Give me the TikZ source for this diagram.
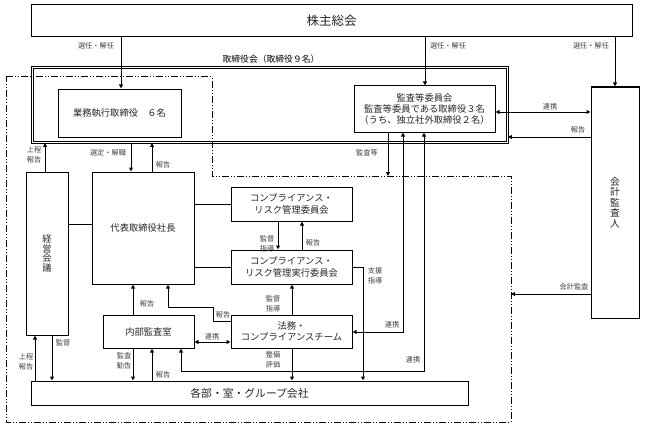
\documentclass[tikz,border=0pt]{standalone}
\usepackage{fontspec}
\setmainfont{Noto Sans CJK JP}
\usetikzlibrary{arrows.meta}
\begin{document}
\begin{tikzpicture}[x=1pt,y=-1pt,
  box/.style={draw, line width=1pt, inner sep=0pt, align=center, text=black!85, font=\fontsize{9.3}{11.5}\selectfont},
  arr/.style={-{Triangle[length=4pt,width=3.8pt]}, line width=1pt},
  darr/.style={{Triangle[length=4pt,width=3.8pt]}-{Triangle[length=4pt,width=3.8pt]}, line width=1pt},
  ln/.style={line width=1pt},
  lbl/.style={font=\fontsize{7.2}{9.5}\selectfont, text=black!75, inner sep=0pt, align=center},
  ddot/.style={line width=1pt, dash pattern=on 7pt off 2pt on 1pt off 2pt on 1pt off 2pt},
]
\useasboundingbox (0,0) rectangle (648,428);

% nodes
\node[box, minimum width=601pt, minimum height=32pt, font=\fontsize{12.5}{15}\selectfont] (kabu) at (331.5,21) {株主総会};
\node[draw, double, line width=0.9pt, double distance=1.2pt, minimum width=475pt, minimum height=75pt, inner sep=0pt] (board) at (270,105) {};
\node[font=\fontsize{8.8}{11}\selectfont, inner sep=0pt] (boardlbl) at (271,59) {取締役会（取締役９名）};
\draw[ddot] (6,77) -- (212,77) -- (212,176) -- (511,176) -- (511,422) -- (6,422) -- cycle;
\coordinate (ddtop) at (388,176);
\coordinate (ddright) at (511,294);

\node[box, minimum width=123pt, minimum height=48pt] (gyomu) at (119.5,113) {業務執行取締役　６名};
\node[box, minimum width=141pt, minimum height=46pt, font=\fontsize{9.3}{10.6}\selectfont] (kansa) at (424.5,109) {監査等委員会\\監査等委員である取締役３名\\（うち、独立社外取締役２名）};
\node[box, minimum width=48pt, minimum height=231pt, font=\fontsize{9.8}{10.6}\selectfont] (kaikei) at (615,202.5) {会\\計\\監\\査\\人};
\node[box, minimum width=42pt, minimum height=163pt, font=\fontsize{9.3}{9.5}\selectfont] (keiei) at (47,253.5) {経\\営\\会\\議};
\node[box, minimum width=102pt, minimum height=112pt] (daihyo) at (143,228) {代表取締役社長};
\node[box, minimum width=121pt, minimum height=34pt] (comp1) at (291.5,204) {コンプライアンス・\\リスク管理委員会};
\node[box, minimum width=121pt, minimum height=34pt] (comp2) at (291.5,267) {コンプライアンス・\\リスク管理実行委員会};
\node[box, minimum width=121pt, minimum height=33pt] (homu) at (291.5,331.5) {法務・\\コンプライアンスチーム};
\node[box, minimum width=91pt, minimum height=33pt] (naibu) at (148.5,331.5) {内部監査室};
\node[box, minimum width=437pt, minimum height=24pt, font=\fontsize{10.8}{13}\selectfont] (kakubu) at (249.5,393) {各部・室・グループ会社};

% connectors
\draw[arr] (kabu.south -| 121,0) -- (gyomu.north -| 121,0);
\draw[arr] (kabu.south -| 425,0) -- (kansa.north -| 425,0);
\draw[arr] (kabu.south -| kaikei.north) -- (kaikei.north);
\draw[darr] (kansa.east |- 0,112) -- (kaikei.west |- 0,112);
\draw[arr] (kaikei.west |- 0,137) -- (board.east |- 0,137);
\draw[arr] (kaikei.west |- 0,294) -- (ddright);
\draw[arr] (keiei.north -| 45,0) -- (board.south -| 45,0);
\draw[arr] (board.south -| 131,0) -- (daihyo.north -| 131,0);
\draw[arr] (daihyo.north -| 152,0) -- (board.south -| 152,0);
\draw[ln] (keiei.east |- 0,224) -- (daihyo.west |- 0,224);
\draw[ln] (daihyo.east |- comp1.west) -- (comp1.west);
\draw[ln] (daihyo.east |- comp2.west) -- (comp2.west);
\draw[arr] (kansa.south -| 388,0) -- (ddtop);
\draw[arr] (comp1.south -| 278,0) -- (comp2.north -| 278,0);
\draw[arr] (comp2.north -| 302,0) -- (comp1.south -| 302,0);
\draw[arr] (homu.north -| 292,0) -- (comp2.south -| 292,0);
\draw[arr] (comp2.east) -- (363,267) -- (kakubu.north -| 363,0);
\draw[arr] (homu.south -| 292,0) -- (kakubu.north -| 292,0);
\draw[arr] (homu.west |- 0,321) -- (213,321) -- (213,307) -- (168,307) -- (daihyo.south -| 168,0);
\draw[arr] (naibu.north -| 133,0) -- (daihyo.south -| 133,0);
\draw[darr] (naibu.east |- 0,342) -- (homu.west |- 0,342);
\draw[arr] (naibu.south -| 133,0) -- (kakubu.north -| 133,0);
\draw[arr] (kakubu.north -| 152,0) -- (naibu.south -| 152,0);
\draw[arr] (kakubu.north -| 35,0) -- (keiei.south -| 35,0);
\draw[arr] (keiei.south -| 52,0) -- (kakubu.north -| 52,0);
\draw[darr] (kansa.south -| 403,0) -- (403,332) -- (homu.east |- 0,332);
\draw[darr] (kansa.south -| 424,0) -- (424,371) -- (181,371) -- (naibu.south -| 181,0);

% labels
\node[lbl] (l1) at (96,46) {選任・解任};
\node[lbl] (l2) at (448,46) {選任・解任};
\node[lbl] (l3) at (591,46) {選任・解任};
\node[lbl] (l4) at (550,107) {連携};
\node[lbl] (l5) at (578,130) {報告};
\node[lbl] (l6) at (574,287) {会計監査};
\node[lbl] (l7) at (34,155) {上程\\報告};
\node[lbl] (l8) at (108,153) {選定・解職};
\node[lbl] (l9) at (163,165) {報告};
\node[lbl] (l10) at (367,153) {監査等};
\node[lbl] (l11) at (267,244) {監督\\指導};
\node[lbl] (l12) at (313,243) {報告};
\node[lbl] (l13) at (273,304) {監督\\指導};
\node[lbl] (l14) at (375,276) {支援\\指導};
\node[lbl] (l15) at (223,315) {報告};
\node[lbl] (l16) at (147,304) {報告};
\node[lbl] (l17) at (212,337) {連携};
\node[lbl] (l18) at (392,325) {連携};
\node[lbl] (l19) at (413,360) {連携};
\node[lbl] (l20) at (124,361) {監査\\勧告};
\node[lbl] (l21) at (273,360) {整備\\評価};
\node[lbl] (l22) at (163,375) {報告};
\node[lbl] (l23) at (26,362) {上程\\報告};
\node[lbl] (l24) at (63,343) {監督};
\end{tikzpicture}
\end{document}
